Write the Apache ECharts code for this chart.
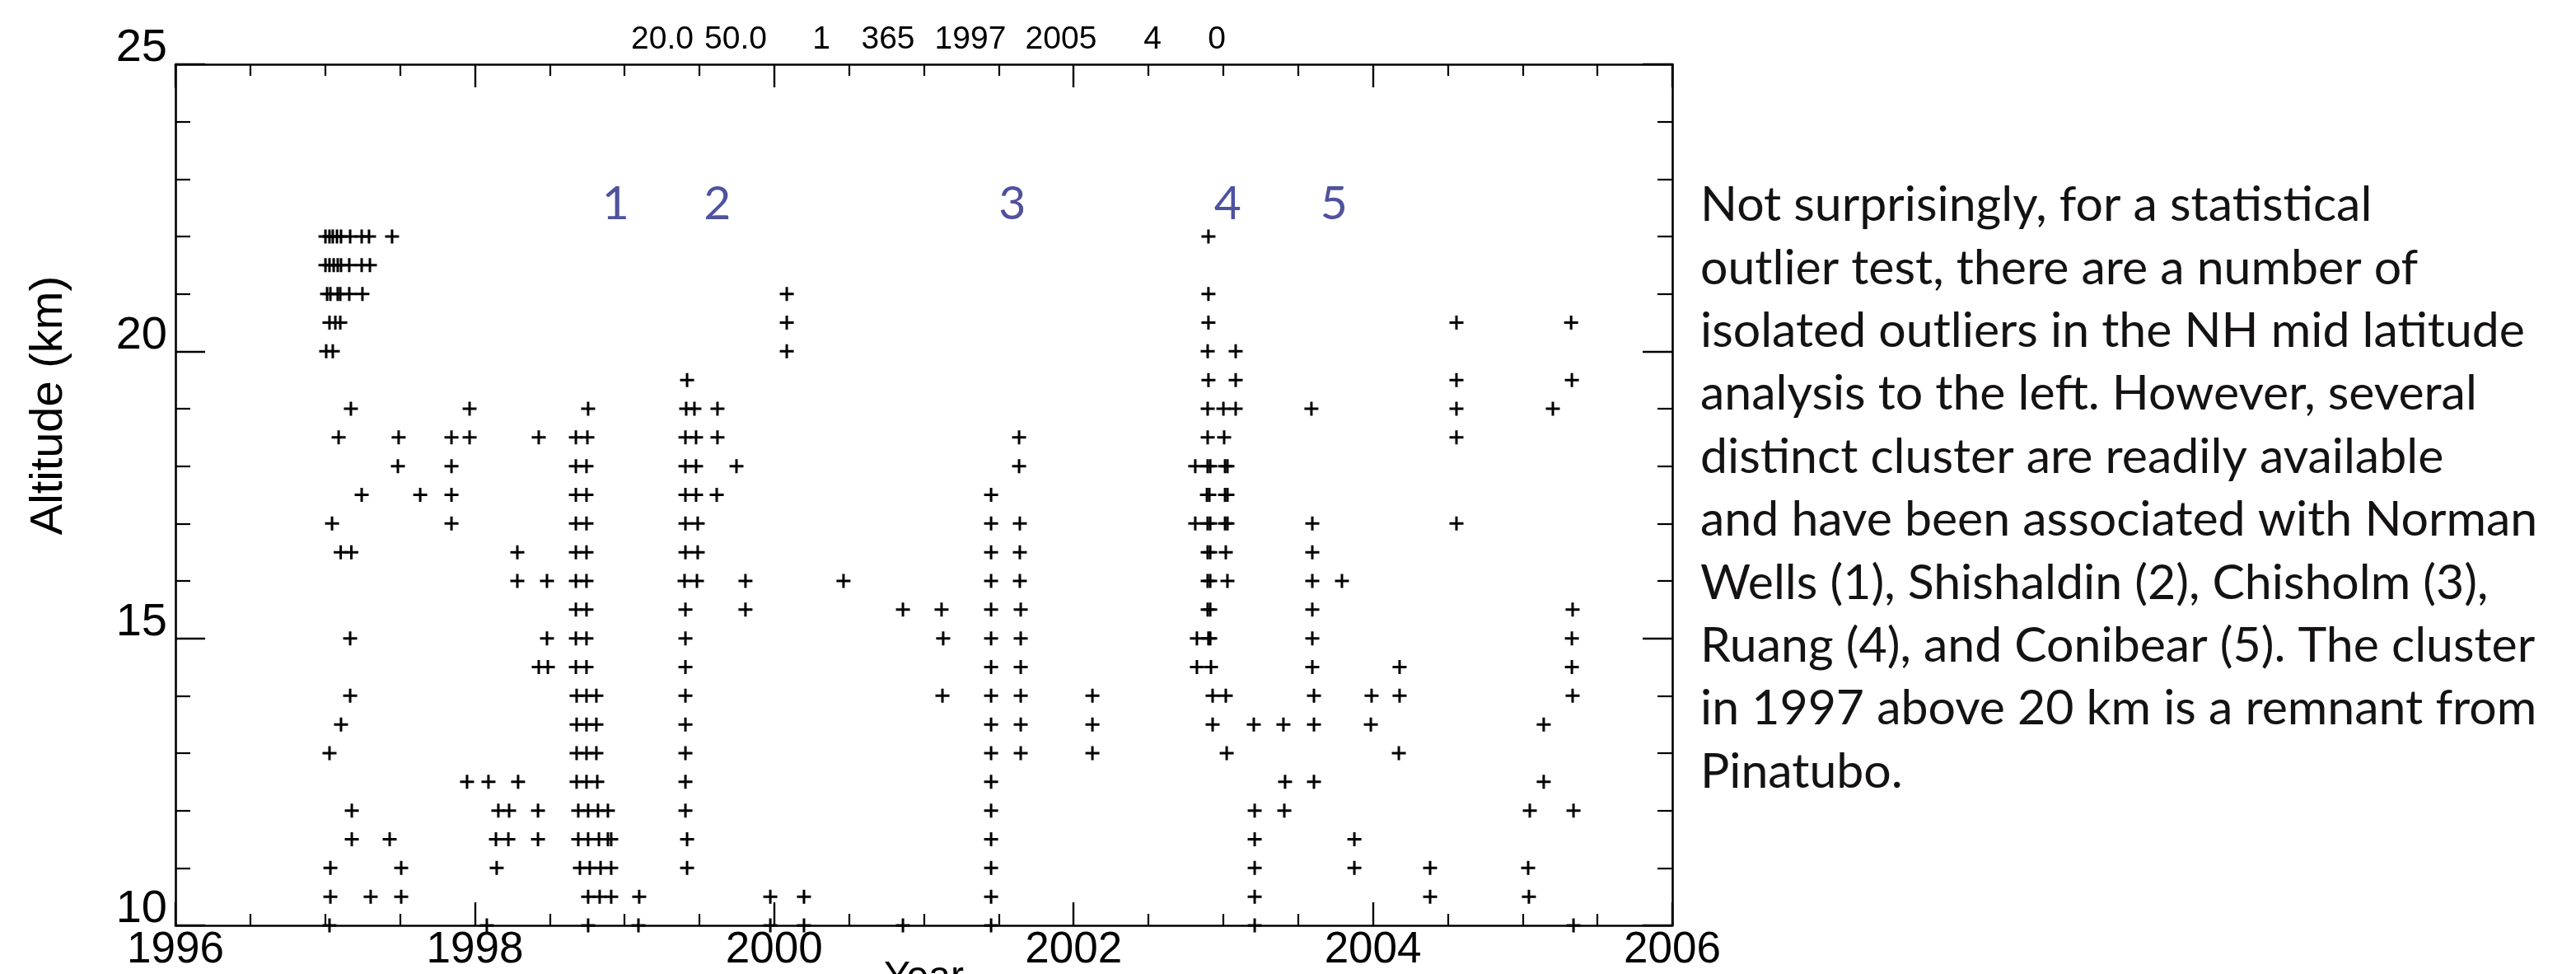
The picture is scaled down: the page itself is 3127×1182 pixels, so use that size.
<!DOCTYPE html>
<html><head><meta charset="utf-8">
<script src="https://cdn.jsdelivr.net/npm/echarts@6/dist/echarts.min.js"></script>
<style>html,body{margin:0;padding:0;background:#fff}#c{width:3127px;height:1182px}</style>
</head><body><div id="c"></div>
<script>
// ---- data (decimal year of each outlier, grouped by altitude level in km) ----
const altitudeLevels = [22, 21.5, 21, 20.5, 20, 19.5, 19, 18.5, 18, 17.5, 17, 16.5, 16, 15.5, 15, 14.5, 14, 13.5, 13, 12.5, 12, 11.5, 11, 10.5, 10];
const yearsAtLevel = [
  [1997.002, 1997.029, 1997.051, 1997.079, 1997.106, 1997.167, 1997.244, 1997.293, 1997.447, 2002.901],
  [1997.002, 1997.029, 1997.057, 1997.084, 1997.106, 1997.161, 1997.244, 1997.299],
  [1997.013, 1997.035, 1997.084, 1997.101, 1997.161, 1997.249, 2000.084, 2002.901],
  [1997.029, 1997.068, 1997.101, 2000.084, 2002.901, 2004.558, 2005.324],
  [1997.007, 1997.051, 2000.084, 2002.896, 2003.083],
  [1999.418, 2002.901, 2003.083, 2004.558, 2005.329],
  [1997.172, 1997.965, 1998.757, 1999.412, 1999.467, 1999.621, 2002.896, 2003.001, 2003.083, 2003.589, 2004.558, 2005.202],
  [1997.090, 1997.491, 1997.844, 1997.965, 1998.427, 1998.675, 1998.752, 1999.407, 1999.478, 1999.621, 2001.636, 2002.896, 2003.006, 2004.558],
  [1997.486, 1997.844, 1998.675, 1998.746, 1999.407, 1999.478, 1999.748, 2001.636, 2002.813, 2002.896, 2002.913, 2003.012, 2003.028],
  [1997.244, 1997.635, 1997.844, 1998.675, 1998.746, 1999.407, 1999.478, 1999.616, 2001.449, 2002.891, 2002.907, 2003.012, 2003.028],
  [1997.046, 1997.844, 1998.675, 1998.746, 1999.407, 1999.489, 2001.449, 2001.641, 2002.813, 2002.896, 2002.913, 2003.012, 2003.028, 2003.595, 2004.558],
  [1997.104, 1997.175, 1998.284, 1998.675, 1998.746, 1999.407, 1999.489, 2001.449, 2001.641, 2002.896, 2002.913, 2003.017, 2003.595],
  [1998.284, 1998.482, 1998.675, 1998.746, 1999.401, 1999.484, 1999.808, 2000.463, 2001.449, 2001.641, 2002.896, 2002.913, 2003.028, 2003.595, 2003.793],
  [1998.675, 1998.746, 1999.407, 1999.808, 2000.860, 2001.118, 2001.449, 2001.647, 2002.896, 2002.913, 2003.595, 2005.334],
  [1997.167, 1998.482, 1998.675, 1998.746, 1999.407, 2001.129, 2001.449, 2001.647, 2002.824, 2002.901, 2002.913, 2003.595, 2005.329],
  [1998.427, 1998.488, 1998.675, 1998.746, 1999.407, 2001.449, 2001.647, 2002.824, 2002.918, 2003.595, 2004.178, 2005.329],
  [1997.167, 1998.680, 1998.746, 1998.812, 1999.407, 2001.124, 2001.449, 2001.647, 2002.126, 2002.929, 2003.017, 2003.606, 2003.991, 2004.178, 2005.334],
  [1997.106, 1998.680, 1998.746, 1998.812, 1999.407, 2001.449, 2001.647, 2002.126, 2002.929, 2003.204, 2003.402, 2003.606, 2003.986, 2005.141],
  [1997.029, 1998.680, 1998.746, 1998.812, 1999.407, 2001.449, 2001.647, 2002.126, 2003.023, 2004.173],
  [1997.948, 1998.091, 1998.289, 1998.680, 1998.746, 1998.818, 1999.407, 2001.449, 2003.413, 2003.606, 2005.141],
  [1997.178, 1998.157, 1998.229, 1998.422, 1998.691, 1998.757, 1998.823, 1998.889, 1999.407, 2001.449, 2003.210, 2003.408, 2005.048, 2005.340],
  [1997.178, 1997.431, 1998.141, 1998.224, 1998.422, 1998.691, 1998.757, 1998.829, 1998.889, 1998.911, 1999.418, 2001.449, 2003.210, 2003.876],
  [1997.035, 1997.508, 1998.146, 1998.702, 1998.768, 1998.840, 1998.911, 1999.418, 2001.449, 2003.210, 2003.876, 2004.382, 2005.037],
  [1997.035, 1997.304, 1997.508, 1998.757, 1998.834, 1998.911, 1999.098, 1999.974, 2000.199, 2001.449, 2003.210, 2004.382, 2005.042],
  [1997.029, 1998.080, 1998.757, 1999.093, 1999.974, 2000.199, 2000.860, 2001.449, 2003.210, 2005.340]
];
// volcanic cluster markers
const clusterLabels = ['1', '2', '3', '4', '5'];
const clusterYears = [1998.94, 1999.62, 2001.59, 2003.03, 2003.74];
const clusterAltitude = 22.57;
// axis ranges / ticks
const yearMin = 1996, yearMax = 2006, yearStep = 2;
const altMin = 10, altMax = 25, altStep = 5;
// texts
const headerTexts = ['20.0', '50.0', '1', '365', '1997', '2005', '4', '0'];
const noteLines = [
  'Not surprisingly, for a statistical',
  'outlier test, there are a number of',
  'isolated outliers in the NH mid latitude',
  'analysis to the left. However, several',
  'distinct cluster are readily available',
  'and have been associated with Norman',
  'Wells (1), Shishaldin (2), Chisholm (3),',
  'Ruang (4), and Conibear (5). The cluster',
  'in 1997 above 20 km is a remnant from',
  'Pinatubo.'
];

// ---- layout (pixels) ----
const headerX = [804, 893, 997, 1078, 1178, 1288, 1399, 1477];
const headerY = 48;

const points = [];
altitudeLevels.forEach((a, i) => yearsAtLevel[i].forEach(y => points.push([y, a])));
const clusterData = clusterLabels.map((l, i) => ({ name: l, value: [clusterYears[i], clusterAltitude] }));

const BLACK = '#000';
const narrow = "'Liberation Sans Narrow','Arial Narrow','Liberation Sans',Arial,sans-serif";
const sans = "'Liberation Sans',Arial,Helvetica,sans-serif";
const plus = 'path://M7,0H10V7H17V10H10V17H7V10H0V7H7Z';

function xAxisCfg(pos, showLabel) {
  return {
    type: 'value', position: pos, min: yearMin, max: yearMax, interval: yearStep,
    axisLine: { show: true, onZero: false, lineStyle: { color: BLACK, width: 2.6 } },
    axisTick: { show: true, inside: true, length: 28, lineStyle: { color: BLACK, width: 2.4 } },
    minorTick: { show: true, splitNumber: 4, length: 14, lineStyle: { color: BLACK, width: 2.2 } },
    splitLine: { show: false }, minorSplitLine: { show: false },
    axisLabel: { show: showLabel, fontFamily: narrow, fontSize: 53, lineHeight: 53, color: BLACK, margin: 4,
      showMinLabel: true, showMaxLabel: true, hideOverlap: false, formatter: v => String(v) }
  };
}
function yAxisCfg(pos, showLabel) {
  return {
    type: 'value', position: pos, min: altMin, max: altMax, interval: altStep,
    axisLine: { show: true, onZero: false, lineStyle: { color: BLACK, width: 2.6 } },
    axisTick: { show: true, inside: true, length: 36, lineStyle: { color: BLACK, width: 2.4 } },
    minorTick: { show: true, splitNumber: 5, length: 18, lineStyle: { color: BLACK, width: 2.2 } },
    splitLine: { show: false }, minorSplitLine: { show: false },
    axisLabel: { show: showLabel, fontFamily: sans, fontSize: 56, lineHeight: 38, verticalAlign: 'bottom',
      color: BLACK, margin: 10, showMinLabel: true, showMaxLabel: true, hideOverlap: false }
  };
}

const xBottom = xAxisCfg('bottom', true);
Object.assign(xBottom, { name: 'Year', nameLocation: 'middle', nameGap: 40, nameMoveOverlap: false,
  nameTextStyle: { fontFamily: narrow, fontSize: 48, lineHeight: 48, color: BLACK } });
const yLeft = yAxisCfg('left', true);
Object.assign(yLeft, { name: 'Altitude (km)', nameLocation: 'middle', nameGap: 125, nameRotate: 90, nameMoveOverlap: false,
  nameTextStyle: { fontFamily: sans, fontSize: 56, lineHeight: 56, color: BLACK, padding: [0, 0, 0, 217] } });

const graphics = headerTexts.map((t, i) => ({
  type: 'text', x: headerX[i], y: headerY, silent: true,
  style: { text: t, fontFamily: sans, fontSize: 39, fill: BLACK, align: 'center', verticalAlign: 'middle' }
}));
graphics.push({
  type: 'text', x: 2064, y: 211, silent: true,
  style: { text: noteLines.join('\n'), fontFamily: "Lato,'Open Sans',sans-serif", fontSize: 59, lineHeight: 76.4,
    fill: '#141213', align: 'left', verticalAlign: 'top' }
});

const chart = echarts.init(document.getElementById('c'), null, { renderer: 'canvas' });
chart.setOption({
  animation: false,
  backgroundColor: '#fff',
  grid: { left: 213, top: 78, right: 1097, bottom: 59, containLabel: false, outerBoundsMode: 'none', show: false },
  xAxis: [xBottom, xAxisCfg('top', false)],
  yAxis: [yLeft, yAxisCfg('right', false)],
  series: [
    { type: 'scatter', xAxisIndex: 0, yAxisIndex: 0, data: points, symbol: plus, symbolSize: 17, clip: false,
      itemStyle: { color: BLACK, opacity: 1 }, emphasis: { disabled: true } },
    { type: 'scatter', xAxisIndex: 0, yAxisIndex: 0, data: clusterData, symbol: 'circle', symbolSize: 1, clip: false,
      itemStyle: { color: 'rgba(0,0,0,0)' }, emphasis: { disabled: true },
      label: { show: true, position: 'inside', formatter: p => p.name, fontFamily: "Lato,'Open Sans',sans-serif",
        fontSize: 57, color: '#232784' } }
  ],
  graphic: graphics
});
</script></body></html>
